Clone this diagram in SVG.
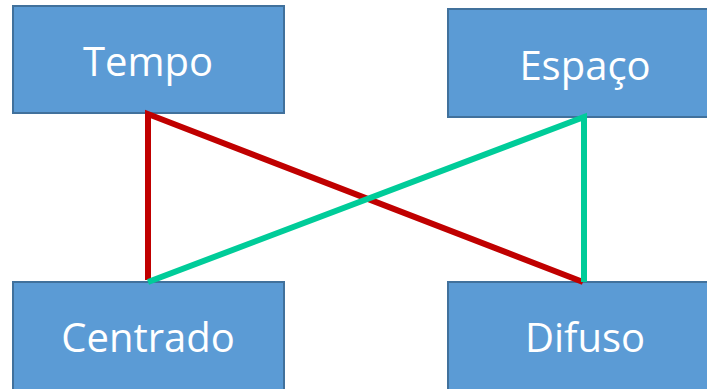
<svg xmlns="http://www.w3.org/2000/svg" width="707" height="389" viewBox="0 0 707 389">
<style>
.box{fill:#5B9BD5;stroke:#41719C;stroke-width:2}
.lbl{fill:#fff;font-family:"Open Sans","Noto Sans",sans-serif;font-size:40px;text-anchor:middle}
.red{stroke:#C00000;stroke-width:6;fill:none}
.grn{stroke:#00CC99;stroke-width:6;fill:none}
</style>
<rect width="707" height="389" fill="#fff"/>
<g id="tempo"><rect class="box" x="13" y="6" width="271" height="107"/><text class="lbl" x="148" y="76">Tempo</text></g>
<g id="espaco"><rect class="box" x="448" y="9" width="270" height="108"/><text class="lbl" x="585" y="80">Espaço</text></g>
<g id="centrado"><rect class="box" x="13" y="282" width="271" height="120"/><text class="lbl" x="148" y="352">Centrado</text></g>
<g id="difuso"><rect class="box" x="448" y="282" width="270" height="120"/><text class="lbl" x="585" y="352">Difuso</text></g>
<g id="connectors">
<path class="red" d="M148,280 L148,114 L583,282"/>
<path class="grn" d="M148,282 L584,117 L584,282"/>
</g>
</svg>
